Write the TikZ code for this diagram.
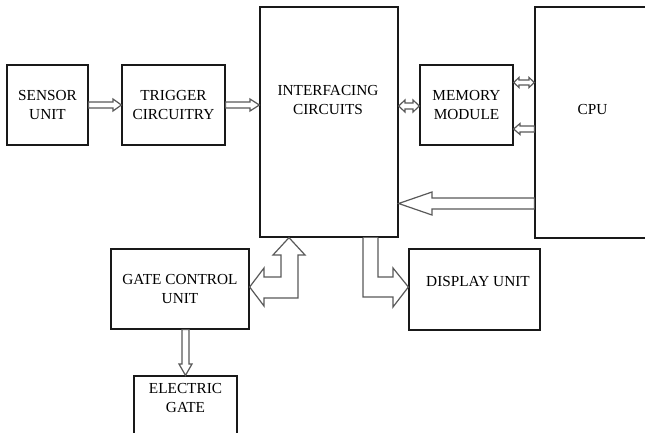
\documentclass[tikz,border=0pt]{standalone}
\usepackage{fontspec}
\setmainfont{Liberation Serif}
\begin{document}
\begin{tikzpicture}[x=1pt,y=-1pt,
  box/.style={draw=black!90, line width=1.25pt, fill=white, align=center, inner sep=0pt,
    font=\fontsize{15.3}{18.5}\selectfont},
  blk/.style={draw=black!65, line width=1.2pt, fill=white, line join=miter},
  lbl/.style={align=center, font=\fontsize{15.3}{18.5}\selectfont}]
\useasboundingbox (0,0) rectangle (645,432);
\clip (0,0) rectangle (645,432);
% boxes
\node[box, minimum width=81pt, minimum height=80pt] (sensor) at (47.5,105) {SENSOR\\UNIT};
\node[box, minimum width=103pt, minimum height=80pt] (trigger) at (173.5,105) {TRIGGER\\CIRCUITRY};
\node[box, minimum width=138pt, minimum height=230pt,
  label={[lbl, xshift=-1pt, yshift=22pt]center:INTERFACING\\CIRCUITS}] (interf) at (329,122) {};
\node[box, minimum width=93pt, minimum height=80pt] (memory) at (466.5,105) {MEMORY\\MODULE};
\node[box, minimum width=115pt, minimum height=231pt,
  label={[lbl, yshift=12.5pt]center:CPU}] (cpu) at (592.5,122.5) {};
\node[box, minimum width=138pt, minimum height=80pt] (gate) at (180,289) {GATE CONTROL\\UNIT};
\node[box, minimum width=131pt, minimum height=81pt,
  label={[lbl, xshift=3.5pt, yshift=7.5pt]center:DISPLAY UNIT}] (display) at (474.5,289.5) {};
\node[box, minimum width=103pt, minimum height=80pt,
  label={[lbl, yshift=18pt]center:ELECTRIC\\GATE}] (egate) at (185.5,416) {};
% sensor -> trigger
\draw[blk] (sensor.east |- 0,102) -- (113,102) -- (113,99) -- (trigger.west |- 0,105) -- (113,111) -- (113,108) -- (sensor.east |- 0,108) -- cycle;
% trigger -> interfacing
\draw[blk] (trigger.east |- 0,102) -- (250,102) -- (250,99) -- (interf.west |- 0,105) -- (250,111) -- (250,108) -- (trigger.east |- 0,108) -- cycle;
% interfacing <-> memory
\draw[blk] (interf.east |- 0,106) -- (405,100) -- (405,103) -- (413,103) -- (413,100) -- (memory.west |- 0,106) -- (413,112) -- (413,109) -- (405,109) -- (405,112) -- cycle;
% memory <-> cpu
\draw[blk] (memory.east |- 0,82.5) -- (519,77.5) -- (519,80) -- (529,80) -- (529,77.5) -- (cpu.west |- 0,82.5) -- (529,87.5) -- (529,85) -- (519,85) -- (519,87.5) -- cycle;
% cpu -> memory
\draw[blk] (memory.east |- 0,129) -- (520,123.5) -- (520,126) -- (cpu.west |- 0,126) -- (cpu.west |- 0,132) -- (520,132) -- (520,134.5) -- cycle;
% cpu -> interfacing
\draw[blk] (interf.east |- 0,203.5) -- (432,192) -- (432,198) -- (cpu.west |- 0,198) -- (cpu.west |- 0,209) -- (432,209) -- (432,215) -- cycle;
% interfacing -> display
\draw[blk] (interf.south -| 363,0) -- (363,297) -- (393,297) -- (393,307) -- (display.west |- 0,287) -- (393,268) -- (393,277) -- (378,277) -- (interf.south -| 378,0);
% gate <-> interfacing
\draw[blk] (gate.east |- 0,287) -- (264,268) -- (264,277) -- (281,277) -- (281,255) -- (273,255) -- (interf.south -| 289,0) -- (305,255) -- (298,255) -- (298,298) -- (264,298) -- (264,306) -- cycle;
% gate -> electric gate
\draw[blk] (gate.south -| 182,0) -- (182,364) -- (179,364) -- (egate.north -| 185.5,0) -- (192,364) -- (189,364) -- (gate.south -| 189,0) -- cycle;
\end{tikzpicture}
\end{document}
